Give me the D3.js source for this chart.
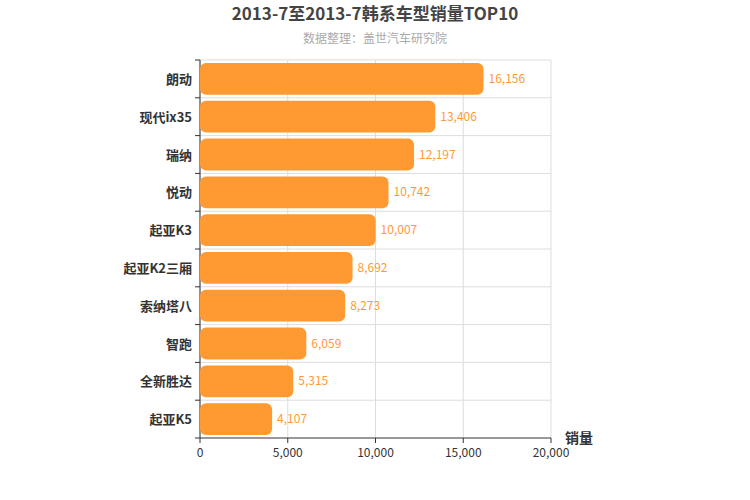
<!DOCTYPE html>
<html><head><meta charset="utf-8">
<script src="https://cdn.jsdelivr.net/npm/d3@7"></script>
<style>body{margin:0;background:#fff;font-family:"Noto Sans CJK SC","Noto Sans",sans-serif}</style>
</head><body><svg id="c" width="750" height="500"></svg>
<script>
const categories=["朗动","现代ix35","瑞纳","悦动","起亚K3","起亚K2三厢","索纳塔八","智跑","全新胜达","起亚K5"];
const values=[16156,13406,12197,10742,10007,8692,8273,6059,5315,4107];
const xTicks=[0,5000,10000,15000,20000];
const svg=d3.select("#c");
const L=200,R=551,T=60,B=438;
const x=d3.scaleLinear().domain([0,20000]).range([L,R]);
const y=d3.scaleBand().domain(categories).range([T,B]).paddingInner(0.16).paddingOuter(0.08);
const yb=d3.scaleBand().domain(categories).range([T,B]);
const g=svg.append("g");
xTicks.forEach(t=>g.append("line").attr("x1",x(t)).attr("x2",x(t)).attr("y1",T).attr("y2",B).attr("stroke","#ddd"));
categories.forEach(c=>g.append("line").attr("x1",L).attr("x2",R).attr("y1",yb(c)).attr("y2",yb(c)).attr("stroke","#ddd"));
g.append("line").attr("x1",L).attr("x2",L).attr("y1",T).attr("y2",B).attr("stroke","#333");
g.append("line").attr("x1",L).attr("x2",R).attr("y1",B).attr("y2",B).attr("stroke","#333");
categories.forEach(c=>g.append("line").attr("x1",L-5).attr("x2",L).attr("y1",yb(c)).attr("y2",yb(c)).attr("stroke","#333"));
g.append("line").attr("x1",L-5).attr("x2",L).attr("y1",B).attr("y2",B).attr("stroke","#333");
xTicks.forEach(t=>{g.append("line").attr("x1",x(t)).attr("x2",x(t)).attr("y1",B).attr("y2",B+5).attr("stroke","#333");
 g.append("text").attr("x",x(t)).attr("y",B+19).attr("text-anchor","middle").attr("font-size",12).attr("fill","#333").text(d3.format(",")(t));});
categories.forEach((c,i)=>{
 g.append("rect").attr("x",L).attr("y",y(c)).attr("width",x(values[i])-L).attr("height",y.bandwidth()).attr("rx",6).attr("fill","#ff9a33");
 g.append("text").attr("x",x(values[i])+5).attr("y",y(c)+y.bandwidth()/2+4).attr("font-size",12).attr("fill","#ff9a33").text(d3.format(",")(values[i]));
 g.append("text").attr("x",L-8).attr("y",yb(c)+yb.bandwidth()/2+5).attr("text-anchor","end").attr("font-size",13).attr("font-weight","bold").attr("fill","#333").text(c);
});
svg.append("text").attr("x",375).attr("y",20).attr("text-anchor","middle").attr("font-size",17).attr("font-weight","bold").attr("fill","#444").text("2013-7至2013-7韩系车型销量TOP10");
svg.append("text").attr("x",375).attr("y",43).attr("text-anchor","middle").attr("font-size",12).attr("fill","#aaa").text("数据整理：盖世汽车研究院");
svg.append("text").attr("x",565).attr("y",443).attr("font-size",14).attr("font-weight","bold").attr("fill","#333").text("销量");
</script></body></html>
